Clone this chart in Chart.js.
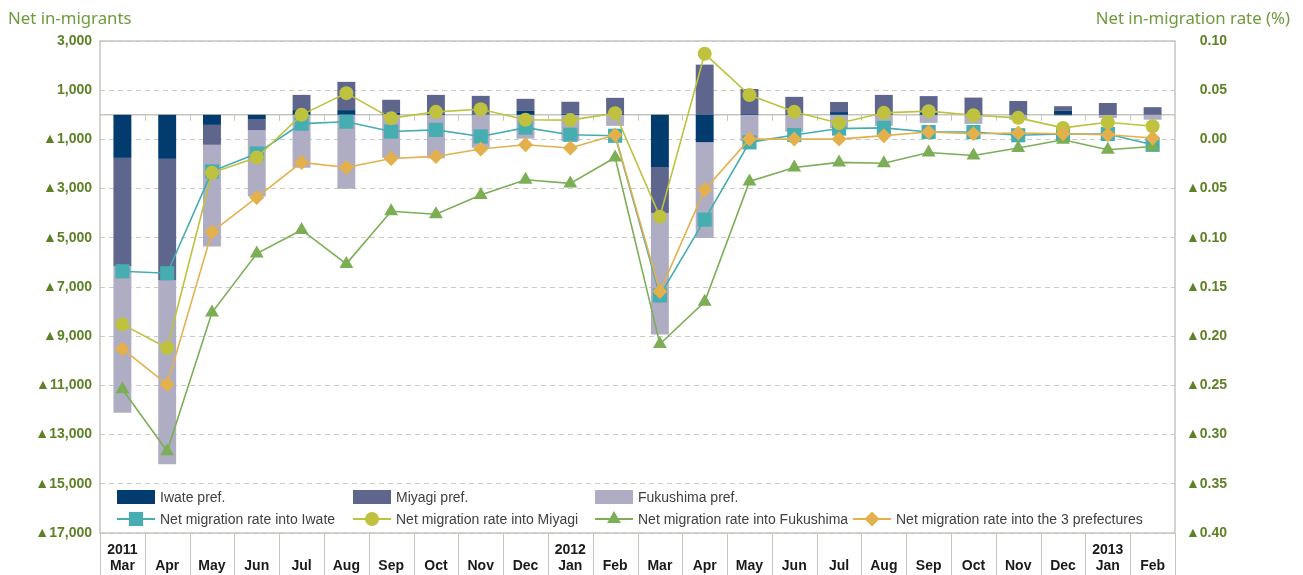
<!DOCTYPE html>
<html>
<head>
<meta charset="utf-8">
<script src="https://cdn.jsdelivr.net/npm/chart.js@4.4.0/dist/chart.umd.min.js"></script>
<style>
  html, body { margin: 0; padding: 0; background: #ffffff; }
  #wrap { position: relative; width: 1303px; height: 575px; }
</style>
</head>
<body>
<div id="wrap"><canvas id="c" width="1303" height="575"></canvas></div>
<script>
// Month categories (Mar 2011 – Feb 2013) and the year shown above the first month of each year
const months = ['Mar','Apr','May','Jun','Jul','Aug','Sep','Oct','Nov','Dec','Jan','Feb',
                'Mar','Apr','May','Jun','Jul','Aug','Sep','Oct','Nov','Dec','Jan','Feb'];
const years  = ['2011','','','','','','','','','','2012','',
                '','','','','','','','','','','2013',''];

// Net in-migrants by prefecture (persons)
const iwatePeople     = [-1750,-1790,-410,-170,190,190,80,40,10,160,40,30,
                         -2120,-1110,30,20,110,0,70,60,20,160,20,0];
const miyagiPeople    = [-4410,-4940,-810,-450,620,1150,530,770,760,490,490,660,
                         -1870,2040,1020,710,410,810,690,640,540,190,460,310];
const fukushimaPeople = [-5950,-7480,-4130,-2700,-2150,-3010,-1750,-1770,-1340,-970,-1070,-450,
                         -4940,-3900,-1070,-690,-540,-450,-330,-370,-200,-40,-130,-200];

// Net in-migration rates (%)
const iwateRate     = [-0.134,-0.136,-0.0325,-0.0143,0.016,0.018,0.008,0.0097,0.003,0.012,0.0047,0.0037,
                       -0.1586,-0.0815,-0.003,0.0044,0.011,0.0117,0.0075,0.0075,0.0042,0.0055,0.0055,-0.0055];
const miyagiRate    = [-0.188,-0.212,-0.034,-0.0184,0.025,0.047,0.0216,0.028,0.0307,0.020,0.0196,0.0267,
                       -0.0785,0.087,0.045,0.028,0.0165,0.027,0.0287,0.0246,0.0219,0.0117,0.0175,0.0133];
const fukushimaRate = [-0.254,-0.317,-0.176,-0.116,-0.092,-0.1265,-0.073,-0.076,-0.0565,-0.041,-0.0447,-0.0184,
                       -0.208,-0.165,-0.0427,-0.0285,-0.0234,-0.0242,-0.0133,-0.0163,-0.0088,-0.0003,-0.0105,-0.0072];
const threePrefRate = [-0.213,-0.249,-0.094,-0.059,-0.0234,-0.0285,-0.0194,-0.0173,-0.0098,-0.0055,-0.0088,0.0044,
                       -0.1546,-0.0511,0.0003,0.0003,0.0003,0.0038,0.0075,0.0058,0.0065,0.0058,0.0048,0.0014];

// Axis tick settings
const peopleMin = -17000, peopleMax = 3000, peopleStep = 2000;
const rateMin = -0.40, rateMax = 0.10, rateStep = 0.05;

const GREEN_TEXT = '#5f8126';
const TITLE_GREEN = '#6f9b3d';
const FRAME = '#c6c6be';

const labels = months.map((m, i) => [years[i], m]);

function negMark(s, neg) { return neg ? '\u25B2' + s : s; }

// Frame, zero line with category ticks, and the table-like separators under the plot
const framePlugin = {
  id: 'frame',
  beforeDatasetsDraw(chart) {
    const { ctx, chartArea: a, scales } = chart;
    const x = scales.x, y = scales.y;
    ctx.save();
    ctx.strokeStyle = FRAME;
    ctx.lineWidth = 1.5;
    ctx.setLineDash([]);
    ctx.strokeRect(a.left, a.top, a.right - a.left, a.bottom - a.top);
    // zero line of the people axis
    const y0 = y.getPixelForValue(0);
    ctx.beginPath();
    ctx.moveTo(a.left, y0); ctx.lineTo(a.right, y0);
    ctx.stroke();
    // boundaries between categories
    const n = months.length;
    const half = (x.getPixelForValue(1) - x.getPixelForValue(0)) / 2;
    ctx.lineWidth = 1;
    for (let i = 1; i < n; i++) {
      const bx = Math.round(x.getPixelForValue(i) - half) + 0.5;
      ctx.beginPath();
      ctx.moveTo(bx, y0); ctx.lineTo(bx, y0 + 6);
      ctx.stroke();
    }
    ctx.restore();
  },
  afterDraw(chart) {
    const { ctx, chartArea: a, scales } = chart;
    const x = scales.x;
    const n = months.length;
    const half = (x.getPixelForValue(1) - x.getPixelForValue(0)) / 2;
    ctx.save();
    ctx.strokeStyle = FRAME;
    ctx.lineWidth = 1;
    for (let i = 0; i <= n; i++) {
      const bx = Math.round(x.getPixelForValue(Math.min(i, n - 1)) + (i === n ? half : -half)) + 0.5;
      ctx.beginPath();
      ctx.moveTo(bx, a.bottom); ctx.lineTo(bx, chart.height);
      ctx.stroke();
    }
    // axis titles
    ctx.fillStyle = TITLE_GREEN;
    ctx.font = '16.8px "Noto Sans", "Open Sans", sans-serif';
    ctx.textBaseline = 'alphabetic';
    ctx.textAlign = 'left';
    ctx.fillText('Net in-migrants', 8, 24);
    ctx.textAlign = 'right';
    ctx.fillText('Net in-migration rate (%)', 1290, 24);
    ctx.restore();
  }
};

// Legend drawn inside the lower part of the plot, in a 2-row layout
const legendPlugin = {
  id: 'insideLegend',
  afterDatasetsDraw(chart) {
    const { ctx, chartArea: a } = chart;
    const ds = chart.data.datasets;
    const cols = [17, 253, 495, 753];
    const rows = [a.bottom - 36, a.bottom - 14];
    ctx.save();
    ctx.font = '14px "Liberation Sans", Arial, sans-serif';
    ctx.textBaseline = 'middle';
    ctx.textAlign = 'left';
    let barIdx = 0, lineIdx = 0;
    ds.forEach((d) => {
      let x0, yy;
      if (d.type === 'bar') {
        x0 = a.left + cols[barIdx++]; yy = rows[0];
        ctx.fillStyle = d.backgroundColor;
        ctx.fillRect(x0, yy - 7, 38, 14);
      } else {
        x0 = a.left + cols[lineIdx++]; yy = rows[1];
        ctx.strokeStyle = d.borderColor;
        ctx.lineWidth = 2;
        ctx.beginPath(); ctx.moveTo(x0, yy); ctx.lineTo(x0 + 38, yy); ctx.stroke();
        ctx.fillStyle = d.backgroundColor;
        ctx.beginPath();
        Chart.helpers.drawPoint(ctx, {
          pointStyle: d.pointStyle, radius: d.pointRadius, rotation: 0, borderWidth: 0
        }, x0 + 19, yy);
      }
      ctx.fillStyle = '#404040';
      ctx.fillText(d.label, x0 + 43, yy + 1);
    });
    ctx.restore();
  }
};

const barCommon = { type: 'bar', yAxisID: 'y', stack: 'people', order: 10,
                    barPercentage: 0.4, categoryPercentage: 1.0, borderWidth: 0 };
const lineCommon = { type: 'line', yAxisID: 'yR', borderWidth: 1.6, pointBorderWidth: 0,
                     tension: 0, fill: false };

new Chart(document.getElementById('c'), {
  data: {
    labels: labels,
    datasets: [
      { ...barCommon, label: 'Iwate pref.', data: iwatePeople, backgroundColor: '#023b6e' },
      { ...barCommon, label: 'Miyagi pref.', data: miyagiPeople, backgroundColor: '#5f668e' },
      { ...barCommon, label: 'Fukushima pref.', data: fukushimaPeople, backgroundColor: '#afadc4' },
      { ...lineCommon, label: 'Net migration rate into Iwate', data: iwateRate, order: 4,
        borderColor: '#46adb0', backgroundColor: '#46adb0', pointStyle: 'rect', pointRadius: 10 },
      { ...lineCommon, label: 'Net migration rate into Miyagi', data: miyagiRate, order: 3,
        borderColor: '#bec23f', backgroundColor: '#bec23f', pointStyle: 'circle', pointRadius: 7 },
      { ...lineCommon, label: 'Net migration rate into Fukushima', data: fukushimaRate, order: 2,
        borderColor: '#7bae55', backgroundColor: '#7bae55', pointStyle: 'triangle', pointRadius: 8 },
      { ...lineCommon, label: 'Net migration rate into the 3 prefectures', data: threePrefRate, order: 1,
        borderColor: '#e3b04c', backgroundColor: '#e3b04c', pointStyle: 'rectRot', pointRadius: 7.5 }
    ]
  },
  options: {
    responsive: false,
    animation: false,
    devicePixelRatio: 1,
    layout: { padding: { left: 0, right: 76, top: 41, bottom: 0 } },
    plugins: { legend: { display: false }, tooltip: { enabled: false } },
    scales: {
      x: {
        stacked: true,
        grid: { display: false },
        border: { display: false },
        afterFit(s) { s.height = 42; },
        ticks: {
          color: '#1a1a1a', padding: 1, maxRotation: 0, autoSkip: false,
          font: { family: '"Liberation Sans", Arial, sans-serif', size: 14, weight: 'bold', lineHeight: 1.15 }
        }
      },
      y: {
        position: 'left', stacked: true,
        min: peopleMin, max: peopleMax,
        afterFit(s) { s.width = 100; },
        grid: { color: '#cbcbc3', lineWidth: 1, drawTicks: false },
        border: { display: false, dash: [5, 4] },
        ticks: {
          stepSize: peopleStep, padding: 8, color: GREEN_TEXT,
          font: { family: '"Liberation Sans", Arial, sans-serif', size: 14, weight: 'bold' },
          callback(v) { return negMark(Math.abs(v).toLocaleString('en-US'), v < 0); }
        }
      },
      yR: {
        position: 'right',
        min: rateMin, max: rateMax,
        afterFit(s) { s.width = 52; },
        grid: { display: false, drawOnChartArea: false },
        border: { display: false },
        ticks: {
          stepSize: rateStep, padding: 4, color: GREEN_TEXT, crossAlign: 'far',
          font: { family: '"Liberation Sans", Arial, sans-serif', size: 14, weight: 'bold' },
          callback(v) {
            if (Math.abs(v) < 1e-9) return '0.00';
            return negMark(Math.abs(v).toFixed(2), v < 0);
          }
        }
      }
    }
  },
  plugins: [framePlugin, legendPlugin]
});
</script>
</body>
</html>
